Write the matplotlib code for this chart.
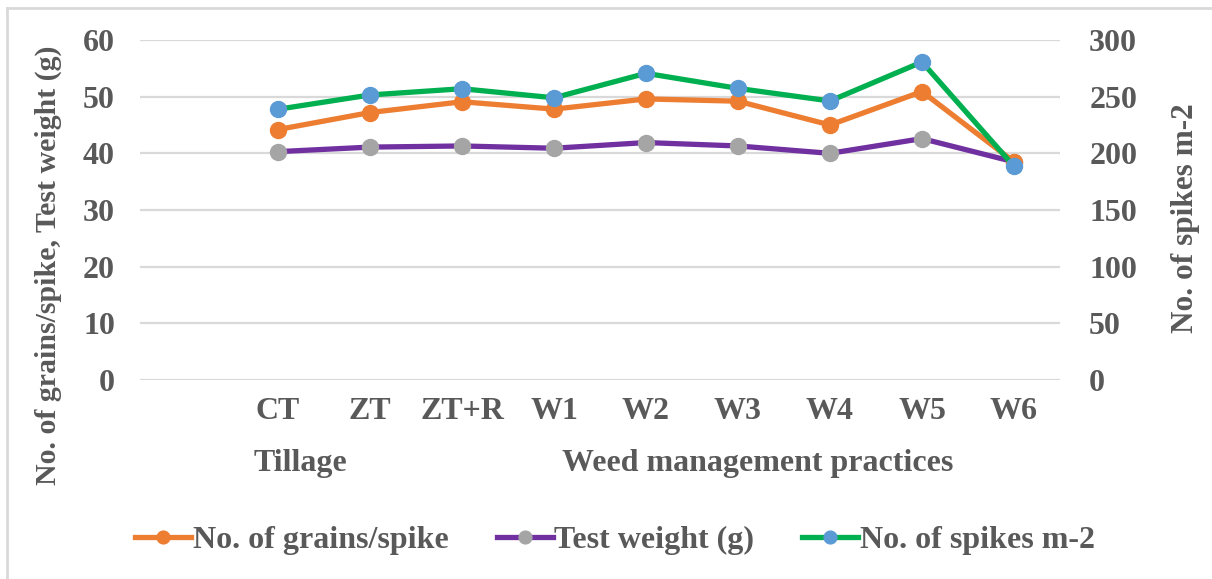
import matplotlib.pyplot as plt
from matplotlib.lines import Line2D
from matplotlib.transforms import blended_transform_factory

# --- data ---
categories = ["CT", "ZT", "ZT+R", "W1", "W2", "W3", "W4", "W5", "W6"]
group_labels = ["Tillage", "Weed management practices"]
group_pos = [0.24, 5.21]

grains_per_spike = [44.2, 47.2, 49.1, 47.8, 49.6, 49.2, 45.0, 50.9, 38.5]
test_weight = [40.3, 41.1, 41.3, 40.9, 41.9, 41.3, 40.0, 42.6, 38.5]
spikes_m2 = [238.9, 251.5, 257.0, 249.0, 270.6, 257.3, 246.2, 280.6, 188.5]

left_ticks = [0, 10, 20, 30, 40, 50, 60]
right_ticks = [0, 50, 100, 150, 200, 250, 300]

# --- style ---
plt.rcParams['font.family'] = ['Liberation Serif', 'DejaVu Serif']
plt.rcParams['font.weight'] = 'bold'
TXT = '#595959'
GRID = '#d9d9d9'
FS = 23

fig = plt.figure(figsize=(12.12, 5.79), dpi=100)
ax = fig.add_axes([140 / 1212, 1 - 380 / 579, 920 / 1212, 340 / 579])
ax2 = ax.twinx()

x = list(range(len(categories)))
lw = 3.8
ms = 11.5

l1, = ax.plot(x, grains_per_spike, color='#ED7D31', lw=lw, marker='o', ms=ms,
              mfc='#ED7D31', mec='#ED7D31', zorder=4)
l2, = ax.plot(x, test_weight, color='#7030A0', lw=lw, marker='o', ms=ms,
              mfc='#A5A5A5', mec='#A5A5A5', zorder=3)
l3, = ax2.plot(x, spikes_m2, color='#00B050', lw=lw, marker='o', ms=ms,
               mfc='#5B9BD5', mec='#5B9BD5', zorder=5)

ax.set_xlim(-1.5, 8.5)
ax.set_ylim(0, 60)
ax2.set_ylim(0, 300)
ax.set_yticks(left_ticks)
ax2.set_yticks(right_ticks)
ax.yaxis.grid(True, color=GRID, lw=1.6)
ax.set_axisbelow(True)

for a in (ax, ax2):
    for s in a.spines.values():
        s.set_visible(False)
    a.tick_params(length=0, labelsize=FS, labelcolor=TXT)

ax.tick_params(axis='y', pad=18)
ax2.tick_params(axis='y', pad=21)
ax.set_xticks(x)
ax.set_xticklabels(categories)
ax.tick_params(axis='x', pad=12)

trans = blended_transform_factory(ax.transData, fig.transFigure)
for lab, p in zip(group_labels, group_pos):
    fig.text(p, 1 - 463 / 579, lab, transform=trans, ha='center', va='center',
             fontsize=FS, color=TXT, fontweight='bold')

fig.text(48 / 1212, 1 - 265 / 579, "No. of grains/spike, Test weight (g)",
         rotation=90, ha='center', va='center', fontsize=21.5, color=TXT,
         fontweight='bold')
fig.text(1185 / 1212, 1 - 218 / 579, "No. of spikes m-2",
         rotation=90, ha='center', va='center', fontsize=22.5, color=TXT,
         fontweight='bold')

leg = fig.legend([l1, l2, l3],
                 ["No. of grains/spike", "Test weight (g)", "No. of spikes m-2"],
                 loc='center', bbox_to_anchor=(615 / 1212, 1 - 540 / 579),
                 ncol=3, frameon=False, fontsize=FS, handlelength=1.75,
                 handletextpad=0.05, columnspacing=1.5, markerscale=0.8)
for t in leg.get_texts():
    t.set_color(TXT)

# chart border
fig.add_artist(Line2D([7 / 1212, 7 / 1212], [0, 1 - 8 / 579], color=GRID, lw=2,
                      transform=fig.transFigure))
fig.add_artist(Line2D([7 / 1212, 1], [1 - 8 / 579, 1 - 8 / 579], color=GRID, lw=2,
                      transform=fig.transFigure))

fig.savefig("out.png", dpi=100)
